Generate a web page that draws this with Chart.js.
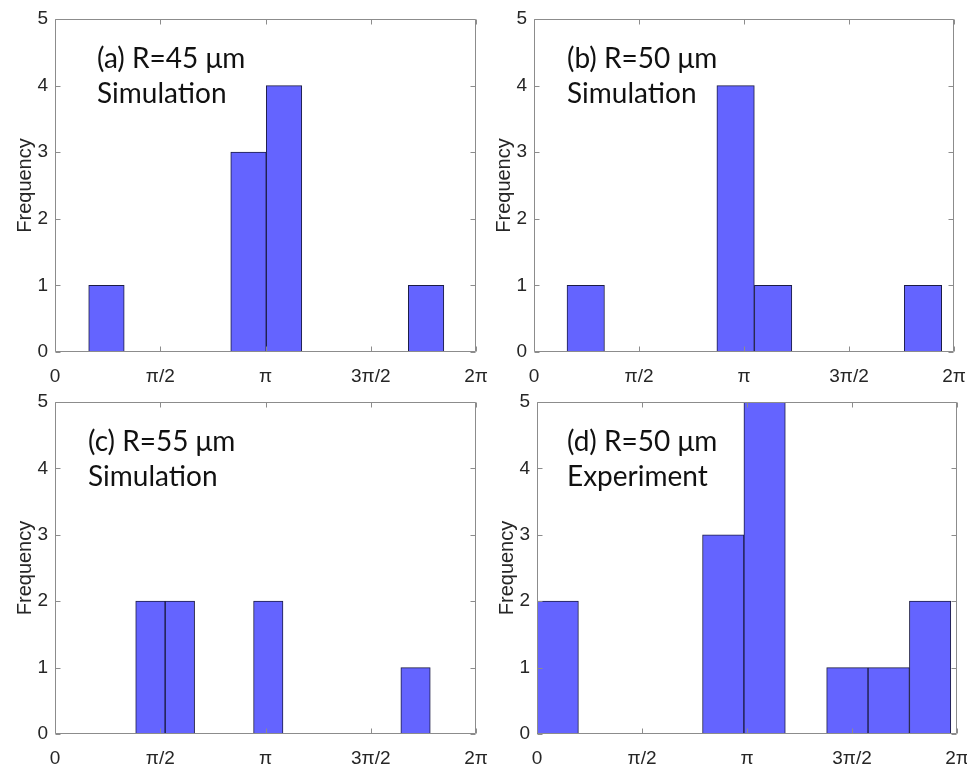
<!DOCTYPE html>
<html>
<head>
<meta charset="utf-8">
<script src="https://cdn.jsdelivr.net/npm/chart.js@4"></script>
<style>
  html, body { margin: 0; padding: 0; background: #fff; }
  body { width: 967px; height: 766px; position: relative; overflow: hidden; }
  .panel { position: absolute; }
</style>
</head>
<body>
<div class="panel" style="left:0px;top:0px;width:506px;height:392px"><canvas id="chartA"></canvas></div>
<div class="panel" style="left:479px;top:0px;width:505px;height:392px"><canvas id="chartB"></canvas></div>
<div class="panel" style="left:0px;top:383px;width:506px;height:391px"><canvas id="chartC"></canvas></div>
<div class="panel" style="left:482px;top:383px;width:505px;height:391px"><canvas id="chartD"></canvas></div>
<script>
// x axis: phase from 0 to 2pi, labelled every pi/2
const xTickValues = [0, Math.PI / 2, Math.PI, 3 * Math.PI / 2, 2 * Math.PI];
const xTickLabels = ['0', 'π/2', 'π', '3π/2', '2π'];

// histogram bin centres (rad) and counts
const binsA = [0.768, 1.298, 1.828, 2.358, 2.888, 3.418, 3.948, 4.478, 5.008, 5.538];
const countsA = [1, 0, 0, 0, 3, 4, 0, 0, 0, 1];

const binsB = [0.774, 1.335, 1.895, 2.456, 3.016, 3.577, 4.137, 4.698, 5.258, 5.819];
const countsB = [1, 0, 0, 0, 4, 1, 0, 0, 0, 1];

const binsC = [1.424, 1.864, 2.303, 2.743, 3.183, 3.622, 4.062, 4.502, 4.942, 5.381];
const countsC = [2, 2, 0, 0, 2, 0, 0, 0, 0, 1];

const binsD = [0.310, 0.929, 1.548, 2.167, 2.786, 3.405, 4.024, 4.643, 5.262, 5.881];
const countsD = [2, 0, 0, 0, 3, 5, 0, 1, 1, 2];

const panelTitles = ['(a) R=45 μm', '(b) R=50 μm', '(c) R=55 μm', '(d) R=50 μm'];
const panelSubtitles = ['Simulation', 'Simulation', 'Simulation', 'Experiment'];

const axisColor = '#8c8c8c';
const labelColor = '#262626';

// box round the plot with inward tick marks, like matlab
const boxPlugin = {
    id: 'box',
    afterDatasetsDraw(chart) {
        const { ctx, chartArea: a, scales } = chart;
        const l = Math.round(a.left) + 0.5, r = Math.round(a.right) - 0.5;
        const t = Math.round(a.top) + 0.5, b = Math.round(a.bottom) - 0.5;
        ctx.save();
        ctx.strokeStyle = axisColor;
        ctx.lineWidth = 1;
        ctx.beginPath();
        ctx.rect(l, t, r - l, b - t);
        scales.x.ticks.forEach(tk => {
            const px = Math.round(scales.x.getPixelForValue(tk.value)) + 0.5;
            ctx.moveTo(px, b); ctx.lineTo(px, b - 5);
            ctx.moveTo(px, t); ctx.lineTo(px, t + 5);
        });
        scales.y.ticks.forEach(tk => {
            const py = Math.round(scales.y.getPixelForValue(tk.value)) + 0.5;
            ctx.moveTo(l, py); ctx.lineTo(l + 5, py);
            ctx.moveTo(r, py); ctx.lineTo(r - 5, py);
        });
        ctx.stroke();
        ctx.restore();
    },
    afterDraw(chart, args, opts) {
        const { ctx, chartArea: a } = chart;
        ctx.save();
        ctx.fillStyle = '#111';
        ctx.font = '28px Lato';
        ctx.textBaseline = 'alphabetic';
        ctx.fillText(opts.line1, a.left + opts.dx, a.top + 49);
        ctx.fillText(opts.line2, a.left + opts.dx, a.top + 84);
        ctx.restore();
    }
};

function makeChart(id, bins, counts, idx, dx) {
    const ctx = document.getElementById(id).getContext('2d');
    return new Chart(ctx, {
        type: 'bar',
        data: {
            datasets: [{
                data: bins.map((b, i) => ({ x: b, y: counts[i] })),
                backgroundColor: '#6464ff',
                borderColor: '#1c1c44',
                borderWidth: 1,
                borderSkipped: false,
                barPercentage: 1,
                categoryPercentage: 1
            }]
        },
        options: {
            responsive: true,
            maintainAspectRatio: false,
            animation: false,
            layout: { padding: { top: 19, right: 30, left: 0, bottom: 0 } },
            plugins: {
                legend: { display: false },
                tooltip: { enabled: false },
                box: { line1: panelTitles[idx], line2: panelSubtitles[idx], dx: dx }
            },
            scales: {
                x: {
                    type: 'linear',
                    offset: false,
                    min: 0,
                    max: 2 * Math.PI,
                    grid: { display: false, drawTicks: false, offset: false },
                    border: { display: false },
                    afterBuildTicks: s => { s.ticks = xTickValues.map(v => ({ value: v })); },
                    afterFit: s => { s.height = 40; },
                    ticks: {
                        padding: 13,
                        maxRotation: 0,
                        color: labelColor,
                        font: { family: 'Liberation Sans', size: 19 },
                        callback: (v, i) => xTickLabels[i]
                    }
                },
                y: {
                    min: 0,
                    max: 5,
                    grid: { display: false, drawTicks: false },
                    border: { display: false },
                    afterFit: s => { s.width = 55; },
                    ticks: {
                        stepSize: 1,
                        padding: 7,
                        color: labelColor,
                        font: { family: 'Liberation Sans', size: 19 }
                    },
                    title: {
                        display: true,
                        text: 'Frequency',
                        color: labelColor,
                        padding: { top: 13, bottom: 0 },
                        font: { family: 'Liberation Sans', size: 20 }
                    }
                }
            }
        },
        plugins: [boxPlugin]
    });
}

makeChart('chartA', binsA, countsA, 0, 42);
makeChart('chartB', binsB, countsB, 1, 33);
makeChart('chartC', binsC, countsC, 2, 33);
makeChart('chartD', binsD, countsD, 3, 30);
</script>
</body>
</html>
